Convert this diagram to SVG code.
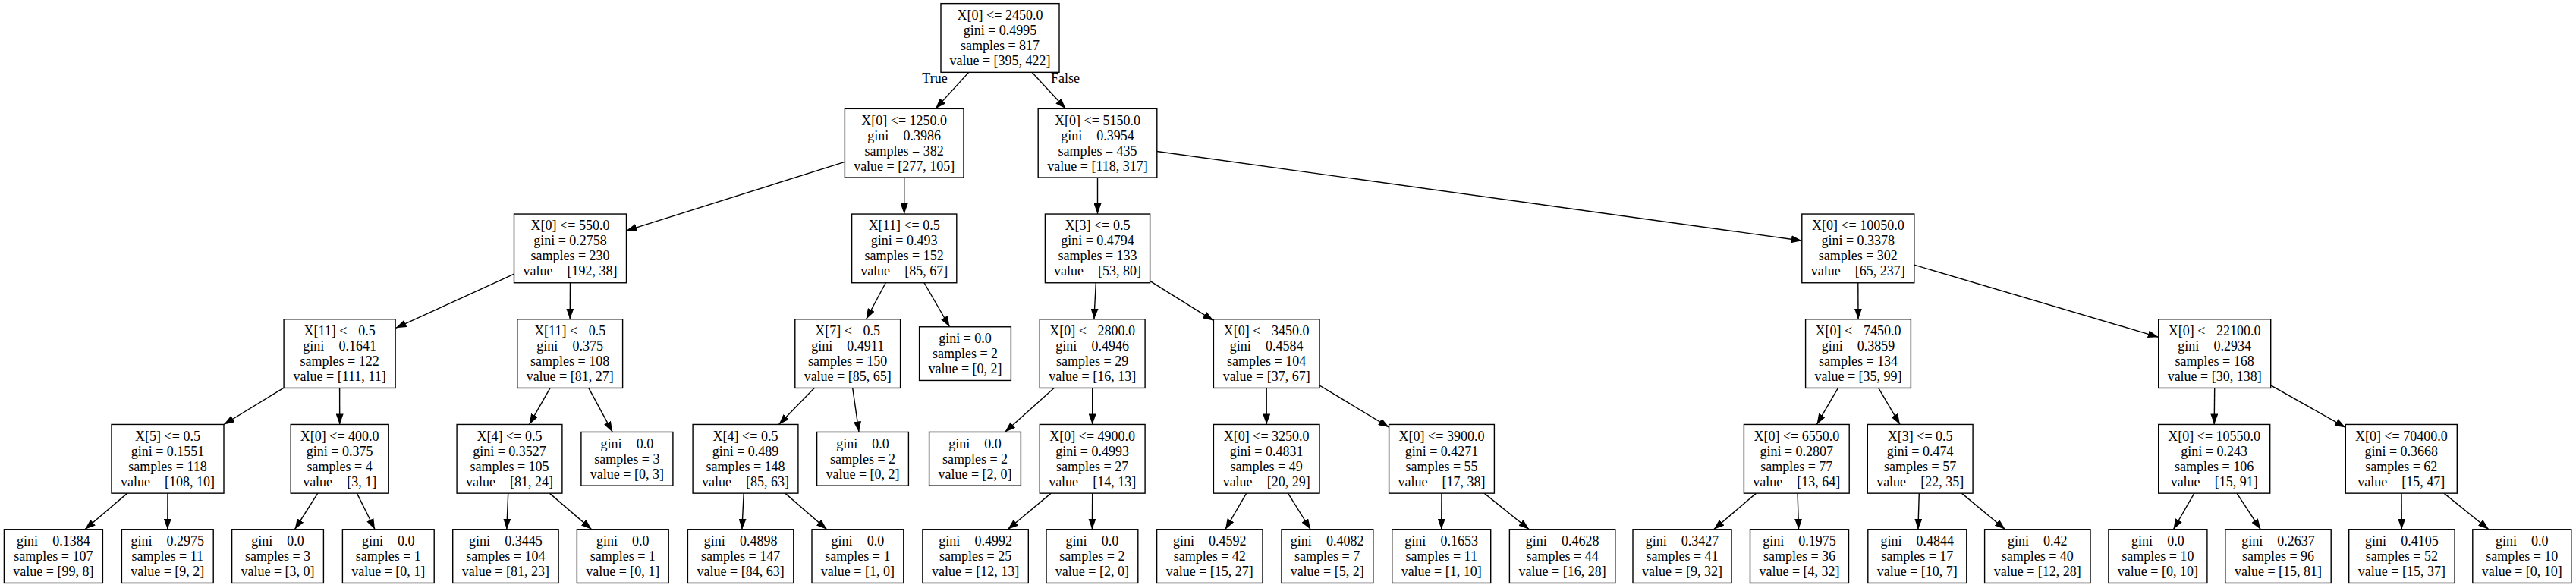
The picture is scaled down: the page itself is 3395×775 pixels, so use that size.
<svg xmlns="http://www.w3.org/2000/svg" width="3395" height="775" viewBox="0 0 3395 775">
<style>
.node rect{fill:#fff;stroke:#000;stroke-width:1.4}
text{font-family:"Liberation Serif","Times New Roman",serif;font-size:18px;text-anchor:middle;fill:#000}
#edges line{stroke:#000;stroke-width:1.4;marker-end:url(#arr)}
</style>
<defs>
<marker id="arr" markerUnits="userSpaceOnUse" viewBox="0 0 14 10" refX="14" refY="5" markerWidth="14" markerHeight="10" orient="auto">
<path d="M0,0 L14,5 L0,10 Z" fill="#000"/>
</marker>
</defs>
<rect width="3395" height="775" fill="#fff"/>
<g id="edges">
<line x1="1276.7" y1="95.35" x2="1233" y2="143.35"/>
<line x1="1360" y1="95.35" x2="1404.5" y2="143.35"/>
<line x1="1113.4" y1="213.4" x2="825.5" y2="304.1"/>
<line x1="1191.7" y1="234.05" x2="1191.7" y2="282.05"/>
<line x1="1446.5" y1="234.05" x2="1446.5" y2="282.05"/>
<line x1="1524.8" y1="199.5" x2="2374.8" y2="317.2"/>
<line x1="677.5" y1="361.2" x2="521.6" y2="432.3"/>
<line x1="751.5" y1="372.75" x2="751.2" y2="420.75"/>
<line x1="1167.3" y1="372.75" x2="1141.6" y2="420.75"/>
<line x1="1218" y1="372.75" x2="1251.5" y2="430.75"/>
<line x1="1444.3" y1="372.75" x2="1441.9" y2="420.75"/>
<line x1="1515.6" y1="370.4" x2="1599.4" y2="422.6"/>
<line x1="2448.8" y1="372.75" x2="2449" y2="420.75"/>
<line x1="2522.8" y1="349.2" x2="2844.7" y2="444.3"/>
<line x1="374.1" y1="511.1" x2="295" y2="559.5"/>
<line x1="447.6" y1="511.45" x2="447.7" y2="559.45"/>
<line x1="725.1" y1="511.45" x2="697.6" y2="559.45"/>
<line x1="775.8" y1="511.45" x2="807.2" y2="569.45"/>
<line x1="1073.2" y1="511.45" x2="1026.5" y2="559.45"/>
<line x1="1123.7" y1="511.45" x2="1132" y2="569.45"/>
<line x1="1389.1" y1="511.45" x2="1324.4" y2="569.45"/>
<line x1="1439.7" y1="511.45" x2="1439.7" y2="559.45"/>
<line x1="1669.2" y1="511.45" x2="1669.2" y2="559.45"/>
<line x1="1739" y1="508" x2="1830.6" y2="563.1"/>
<line x1="2422.5" y1="511.45" x2="2394.4" y2="559.45"/>
<line x1="2475.7" y1="511.45" x2="2504" y2="559.45"/>
<line x1="2918.7" y1="511.45" x2="2918.2" y2="559.45"/>
<line x1="2992.7" y1="507.8" x2="3091.3" y2="563.4"/>
<line x1="167.8" y1="650.15" x2="111.9" y2="697.75"/>
<line x1="221" y1="650.15" x2="220.8" y2="697.75"/>
<line x1="418.8" y1="650.15" x2="388.5" y2="697.75"/>
<line x1="470.4" y1="650.15" x2="494.1" y2="697.75"/>
<line x1="669.7" y1="650.15" x2="667.8" y2="697.75"/>
<line x1="724.3" y1="650.15" x2="779.7" y2="697.75"/>
<line x1="980.2" y1="650.15" x2="977.9" y2="697.75"/>
<line x1="1034.8" y1="650.15" x2="1089.7" y2="697.75"/>
<line x1="1385.2" y1="650.15" x2="1328.1" y2="697.75"/>
<line x1="1439.7" y1="650.15" x2="1439.4" y2="697.75"/>
<line x1="1642.7" y1="650.15" x2="1614.9" y2="697.75"/>
<line x1="1697.5" y1="650.15" x2="1727.2" y2="697.75"/>
<line x1="1900" y1="650.15" x2="1899.7" y2="697.75"/>
<line x1="1956.2" y1="650.15" x2="2015.3" y2="697.75"/>
<line x1="2314.5" y1="650.15" x2="2258.6" y2="697.75"/>
<line x1="2369.1" y1="650.15" x2="2370.5" y2="697.75"/>
<line x1="2529.3" y1="650.15" x2="2527.9" y2="697.75"/>
<line x1="2585.4" y1="650.15" x2="2642.7" y2="697.75"/>
<line x1="2891.9" y1="650.15" x2="2864.4" y2="697.75"/>
<line x1="2948" y1="650.15" x2="2979.3" y2="697.75"/>
<line x1="3165" y1="650.15" x2="3165.3" y2="697.75"/>
<line x1="3221" y1="650.15" x2="3280" y2="697.75"/>
<text x="1232" y="108.5">True</text>
<text x="1404" y="108.5">False</text>
</g>
<g id="n0" class="node"><rect x="1240" y="4.65" width="156" height="90.7"/><text y="26"><tspan x="1318">X[0] &lt;= 2450.0</tspan><tspan x="1318" dy="20">gini = 0.4995</tspan><tspan x="1318" dy="20">samples = 817</tspan><tspan x="1318" dy="20">value = [395, 422]</tspan></text></g>
<g id="n1" class="node"><rect x="1113.4" y="143.35" width="156.6" height="90.7"/><text y="164.7"><tspan x="1191.7">X[0] &lt;= 1250.0</tspan><tspan x="1191.7" dy="20">gini = 0.3986</tspan><tspan x="1191.7" dy="20">samples = 382</tspan><tspan x="1191.7" dy="20">value = [277, 105]</tspan></text></g>
<g id="n2" class="node"><rect x="1368.2" y="143.35" width="156.6" height="90.7"/><text y="164.7"><tspan x="1446.5">X[0] &lt;= 5150.0</tspan><tspan x="1446.5" dy="20">gini = 0.3954</tspan><tspan x="1446.5" dy="20">samples = 435</tspan><tspan x="1446.5" dy="20">value = [118, 317]</tspan></text></g>
<g id="n3" class="node"><rect x="677.5" y="282.05" width="148" height="90.7"/><text y="303.4"><tspan x="751.5">X[0] &lt;= 550.0</tspan><tspan x="751.5" dy="20">gini = 0.2758</tspan><tspan x="751.5" dy="20">samples = 230</tspan><tspan x="751.5" dy="20">value = [192, 38]</tspan></text></g>
<g id="n4" class="node"><rect x="1122.6" y="282.05" width="138.2" height="90.7"/><text y="303.4"><tspan x="1191.7">X[11] &lt;= 0.5</tspan><tspan x="1191.7" dy="20">gini = 0.493</tspan><tspan x="1191.7" dy="20">samples = 152</tspan><tspan x="1191.7" dy="20">value = [85, 67]</tspan></text></g>
<g id="n5" class="node"><rect x="1377.4" y="282.05" width="138.2" height="90.7"/><text y="303.4"><tspan x="1446.5">X[3] &lt;= 0.5</tspan><tspan x="1446.5" dy="20">gini = 0.4794</tspan><tspan x="1446.5" dy="20">samples = 133</tspan><tspan x="1446.5" dy="20">value = [53, 80]</tspan></text></g>
<g id="n6" class="node"><rect x="2374.8" y="282.05" width="148" height="90.7"/><text y="303.4"><tspan x="2448.8">X[0] &lt;= 10050.0</tspan><tspan x="2448.8" dy="20">gini = 0.3378</tspan><tspan x="2448.8" dy="20">samples = 302</tspan><tspan x="2448.8" dy="20">value = [65, 237]</tspan></text></g>
<g id="n7" class="node"><rect x="374.1" y="420.75" width="147" height="90.7"/><text y="442.1"><tspan x="447.6">X[11] &lt;= 0.5</tspan><tspan x="447.6" dy="20">gini = 0.1641</tspan><tspan x="447.6" dy="20">samples = 122</tspan><tspan x="447.6" dy="20">value = [111, 11]</tspan></text></g>
<g id="n8" class="node"><rect x="681.8" y="420.75" width="138.8" height="90.7"/><text y="442.1"><tspan x="751.2">X[11] &lt;= 0.5</tspan><tspan x="751.2" dy="20">gini = 0.375</tspan><tspan x="751.2" dy="20">samples = 108</tspan><tspan x="751.2" dy="20">value = [81, 27]</tspan></text></g>
<g id="n9" class="node"><rect x="1047.8" y="420.75" width="138.8" height="90.7"/><text y="442.1"><tspan x="1117.2">X[7] &lt;= 0.5</tspan><tspan x="1117.2" dy="20">gini = 0.4911</tspan><tspan x="1117.2" dy="20">samples = 150</tspan><tspan x="1117.2" dy="20">value = [85, 65]</tspan></text></g>
<g id="n10" class="node"><rect x="1211.6" y="430.75" width="120.8" height="70.7"/><text y="452.1"><tspan x="1272">gini = 0.0</tspan><tspan x="1272" dy="20">samples = 2</tspan><tspan x="1272" dy="20">value = [0, 2]</tspan></text></g>
<g id="n11" class="node"><rect x="1370.3" y="420.75" width="138.8" height="90.7"/><text y="442.1"><tspan x="1439.7">X[0] &lt;= 2800.0</tspan><tspan x="1439.7" dy="20">gini = 0.4946</tspan><tspan x="1439.7" dy="20">samples = 29</tspan><tspan x="1439.7" dy="20">value = [16, 13]</tspan></text></g>
<g id="n12" class="node"><rect x="1599.4" y="420.75" width="139.6" height="90.7"/><text y="442.1"><tspan x="1669.2">X[0] &lt;= 3450.0</tspan><tspan x="1669.2" dy="20">gini = 0.4584</tspan><tspan x="1669.2" dy="20">samples = 104</tspan><tspan x="1669.2" dy="20">value = [37, 67]</tspan></text></g>
<g id="n13" class="node"><rect x="2379.6" y="420.75" width="138.8" height="90.7"/><text y="442.1"><tspan x="2449">X[0] &lt;= 7450.0</tspan><tspan x="2449" dy="20">gini = 0.3859</tspan><tspan x="2449" dy="20">samples = 134</tspan><tspan x="2449" dy="20">value = [35, 99]</tspan></text></g>
<g id="n14" class="node"><rect x="2844.7" y="420.75" width="148" height="90.7"/><text y="442.1"><tspan x="2918.7">X[0] &lt;= 22100.0</tspan><tspan x="2918.7" dy="20">gini = 0.2934</tspan><tspan x="2918.7" dy="20">samples = 168</tspan><tspan x="2918.7" dy="20">value = [30, 138]</tspan></text></g>
<g id="n15" class="node"><rect x="147" y="559.45" width="148" height="90.7"/><text y="580.8"><tspan x="221">X[5] &lt;= 0.5</tspan><tspan x="221" dy="20">gini = 0.1551</tspan><tspan x="221" dy="20">samples = 118</tspan><tspan x="221" dy="20">value = [108, 10]</tspan></text></g>
<g id="n16" class="node"><rect x="383.2" y="559.45" width="129" height="90.7"/><text y="580.8"><tspan x="447.7">X[0] &lt;= 400.0</tspan><tspan x="447.7" dy="20">gini = 0.375</tspan><tspan x="447.7" dy="20">samples = 4</tspan><tspan x="447.7" dy="20">value = [3, 1]</tspan></text></g>
<g id="n17" class="node"><rect x="602.1" y="559.45" width="138.8" height="90.7"/><text y="580.8"><tspan x="671.5">X[4] &lt;= 0.5</tspan><tspan x="671.5" dy="20">gini = 0.3527</tspan><tspan x="671.5" dy="20">samples = 105</tspan><tspan x="671.5" dy="20">value = [81, 24]</tspan></text></g>
<g id="n18" class="node"><rect x="765.9" y="569.45" width="121" height="70.7"/><text y="590.8"><tspan x="826.4">gini = 0.0</tspan><tspan x="826.4" dy="20">samples = 3</tspan><tspan x="826.4" dy="20">value = [0, 3]</tspan></text></g>
<g id="n19" class="node"><rect x="913.1" y="559.45" width="138.8" height="90.7"/><text y="580.8"><tspan x="982.5">X[4] &lt;= 0.5</tspan><tspan x="982.5" dy="20">gini = 0.489</tspan><tspan x="982.5" dy="20">samples = 148</tspan><tspan x="982.5" dy="20">value = [85, 63]</tspan></text></g>
<g id="n20" class="node"><rect x="1076.6" y="569.45" width="120.8" height="70.7"/><text y="590.8"><tspan x="1137">gini = 0.0</tspan><tspan x="1137" dy="20">samples = 2</tspan><tspan x="1137" dy="20">value = [0, 2]</tspan></text></g>
<g id="n21" class="node"><rect x="1224.6" y="569.45" width="120.8" height="70.7"/><text y="590.8"><tspan x="1285">gini = 0.0</tspan><tspan x="1285" dy="20">samples = 2</tspan><tspan x="1285" dy="20">value = [2, 0]</tspan></text></g>
<g id="n22" class="node"><rect x="1370.3" y="559.45" width="138.8" height="90.7"/><text y="580.8"><tspan x="1439.7">X[0] &lt;= 4900.0</tspan><tspan x="1439.7" dy="20">gini = 0.4993</tspan><tspan x="1439.7" dy="20">samples = 27</tspan><tspan x="1439.7" dy="20">value = [14, 13]</tspan></text></g>
<g id="n23" class="node"><rect x="1599.4" y="559.45" width="139.6" height="90.7"/><text y="580.8"><tspan x="1669.2">X[0] &lt;= 3250.0</tspan><tspan x="1669.2" dy="20">gini = 0.4831</tspan><tspan x="1669.2" dy="20">samples = 49</tspan><tspan x="1669.2" dy="20">value = [20, 29]</tspan></text></g>
<g id="n24" class="node"><rect x="1830.6" y="559.45" width="138.8" height="90.7"/><text y="580.8"><tspan x="1900">X[0] &lt;= 3900.0</tspan><tspan x="1900" dy="20">gini = 0.4271</tspan><tspan x="1900" dy="20">samples = 55</tspan><tspan x="1900" dy="20">value = [17, 38]</tspan></text></g>
<g id="n25" class="node"><rect x="2298.4" y="559.45" width="138.8" height="90.7"/><text y="580.8"><tspan x="2367.8">X[0] &lt;= 6550.0</tspan><tspan x="2367.8" dy="20">gini = 0.2807</tspan><tspan x="2367.8" dy="20">samples = 77</tspan><tspan x="2367.8" dy="20">value = [13, 64]</tspan></text></g>
<g id="n26" class="node"><rect x="2461.3" y="559.45" width="138.8" height="90.7"/><text y="580.8"><tspan x="2530.7">X[3] &lt;= 0.5</tspan><tspan x="2530.7" dy="20">gini = 0.474</tspan><tspan x="2530.7" dy="20">samples = 57</tspan><tspan x="2530.7" dy="20">value = [22, 35]</tspan></text></g>
<g id="n27" class="node"><rect x="2844.7" y="559.45" width="147" height="90.7"/><text y="580.8"><tspan x="2918.2">X[0] &lt;= 10550.0</tspan><tspan x="2918.2" dy="20">gini = 0.243</tspan><tspan x="2918.2" dy="20">samples = 106</tspan><tspan x="2918.2" dy="20">value = [15, 91]</tspan></text></g>
<g id="n28" class="node"><rect x="3091.3" y="559.45" width="147" height="90.7"/><text y="580.8"><tspan x="3164.8">X[0] &lt;= 70400.0</tspan><tspan x="3164.8" dy="20">gini = 0.3668</tspan><tspan x="3164.8" dy="20">samples = 62</tspan><tspan x="3164.8" dy="20">value = [15, 47]</tspan></text></g>
<g id="L1" class="node"><rect x="5.4" y="697.75" width="130" height="70.7"/><text y="719.1"><tspan x="70.4">gini = 0.1384</tspan><tspan x="70.4" dy="20">samples = 107</tspan><tspan x="70.4" dy="20">value = [99, 8]</tspan></text></g>
<g id="L2" class="node"><rect x="160.4" y="697.75" width="120.8" height="70.7"/><text y="719.1"><tspan x="220.8">gini = 0.2975</tspan><tspan x="220.8" dy="20">samples = 11</tspan><tspan x="220.8" dy="20">value = [9, 2]</tspan></text></g>
<g id="L3" class="node"><rect x="305.6" y="697.75" width="120.8" height="70.7"/><text y="719.1"><tspan x="366">gini = 0.0</tspan><tspan x="366" dy="20">samples = 3</tspan><tspan x="366" dy="20">value = [3, 0]</tspan></text></g>
<g id="L4" class="node"><rect x="451.4" y="697.75" width="120.8" height="70.7"/><text y="719.1"><tspan x="511.8">gini = 0.0</tspan><tspan x="511.8" dy="20">samples = 1</tspan><tspan x="511.8" dy="20">value = [0, 1]</tspan></text></g>
<g id="L5" class="node"><rect x="596.7" y="697.75" width="139.4" height="70.7"/><text y="719.1"><tspan x="666.4">gini = 0.3445</tspan><tspan x="666.4" dy="20">samples = 104</tspan><tspan x="666.4" dy="20">value = [81, 23]</tspan></text></g>
<g id="L6" class="node"><rect x="760.4" y="697.75" width="120.8" height="70.7"/><text y="719.1"><tspan x="820.8">gini = 0.0</tspan><tspan x="820.8" dy="20">samples = 1</tspan><tspan x="820.8" dy="20">value = [0, 1]</tspan></text></g>
<g id="L7" class="node"><rect x="906.4" y="697.75" width="139.4" height="70.7"/><text y="719.1"><tspan x="976.1">gini = 0.4898</tspan><tspan x="976.1" dy="20">samples = 147</tspan><tspan x="976.1" dy="20">value = [84, 63]</tspan></text></g>
<g id="L8" class="node"><rect x="1070" y="697.75" width="120.8" height="70.7"/><text y="719.1"><tspan x="1130.4">gini = 0.0</tspan><tspan x="1130.4" dy="20">samples = 1</tspan><tspan x="1130.4" dy="20">value = [1, 0]</tspan></text></g>
<g id="L9" class="node"><rect x="1215.9" y="697.75" width="139.4" height="70.7"/><text y="719.1"><tspan x="1285.6">gini = 0.4992</tspan><tspan x="1285.6" dy="20">samples = 25</tspan><tspan x="1285.6" dy="20">value = [12, 13]</tspan></text></g>
<g id="L10" class="node"><rect x="1379" y="697.75" width="120.8" height="70.7"/><text y="719.1"><tspan x="1439.4">gini = 0.0</tspan><tspan x="1439.4" dy="20">samples = 2</tspan><tspan x="1439.4" dy="20">value = [2, 0]</tspan></text></g>
<g id="L11" class="node"><rect x="1524.6" y="697.75" width="139.4" height="70.7"/><text y="719.1"><tspan x="1594.3">gini = 0.4592</tspan><tspan x="1594.3" dy="20">samples = 42</tspan><tspan x="1594.3" dy="20">value = [15, 27]</tspan></text></g>
<g id="L12" class="node"><rect x="1689" y="697.75" width="120.8" height="70.7"/><text y="719.1"><tspan x="1749.2">gini = 0.4082</tspan><tspan x="1749.2" dy="20">samples = 7</tspan><tspan x="1749.2" dy="20">value = [5, 2]</tspan></text></g>
<g id="L13" class="node"><rect x="1834.7" y="697.75" width="130" height="70.7"/><text y="719.1"><tspan x="1899.7">gini = 0.1653</tspan><tspan x="1899.7" dy="20">samples = 11</tspan><tspan x="1899.7" dy="20">value = [1, 10]</tspan></text></g>
<g id="L14" class="node"><rect x="1989.4" y="697.75" width="139.4" height="70.7"/><text y="719.1"><tspan x="2059.1">gini = 0.4628</tspan><tspan x="2059.1" dy="20">samples = 44</tspan><tspan x="2059.1" dy="20">value = [16, 28]</tspan></text></g>
<g id="L15" class="node"><rect x="2152" y="697.75" width="130" height="70.7"/><text y="719.1"><tspan x="2217">gini = 0.3427</tspan><tspan x="2217" dy="20">samples = 41</tspan><tspan x="2217" dy="20">value = [9, 32]</tspan></text></g>
<g id="L16" class="node"><rect x="2306.5" y="697.75" width="130" height="70.7"/><text y="719.1"><tspan x="2371.5">gini = 0.1975</tspan><tspan x="2371.5" dy="20">samples = 36</tspan><tspan x="2371.5" dy="20">value = [4, 32]</tspan></text></g>
<g id="L17" class="node"><rect x="2461.8" y="697.75" width="130" height="70.7"/><text y="719.1"><tspan x="2526.8">gini = 0.4844</tspan><tspan x="2526.8" dy="20">samples = 17</tspan><tspan x="2526.8" dy="20">value = [10, 7]</tspan></text></g>
<g id="L18" class="node"><rect x="2615.6" y="697.75" width="139.4" height="70.7"/><text y="719.1"><tspan x="2685.3">gini = 0.42</tspan><tspan x="2685.3" dy="20">samples = 40</tspan><tspan x="2685.3" dy="20">value = [12, 28]</tspan></text></g>
<g id="L19" class="node"><rect x="2778.9" y="697.75" width="130" height="70.7"/><text y="719.1"><tspan x="2843.9">gini = 0.0</tspan><tspan x="2843.9" dy="20">samples = 10</tspan><tspan x="2843.9" dy="20">value = [0, 10]</tspan></text></g>
<g id="L20" class="node"><rect x="2932.8" y="697.75" width="139.4" height="70.7"/><text y="719.1"><tspan x="3002.5">gini = 0.2637</tspan><tspan x="3002.5" dy="20">samples = 96</tspan><tspan x="3002.5" dy="20">value = [15, 81]</tspan></text></g>
<g id="L21" class="node"><rect x="3095.7" y="697.75" width="139.4" height="70.7"/><text y="719.1"><tspan x="3165.4">gini = 0.4105</tspan><tspan x="3165.4" dy="20">samples = 52</tspan><tspan x="3165.4" dy="20">value = [15, 37]</tspan></text></g>
<g id="L22" class="node"><rect x="3258.8" y="697.75" width="130" height="70.7"/><text y="719.1"><tspan x="3323.8">gini = 0.0</tspan><tspan x="3323.8" dy="20">samples = 10</tspan><tspan x="3323.8" dy="20">value = [0, 10]</tspan></text></g>
</svg>
